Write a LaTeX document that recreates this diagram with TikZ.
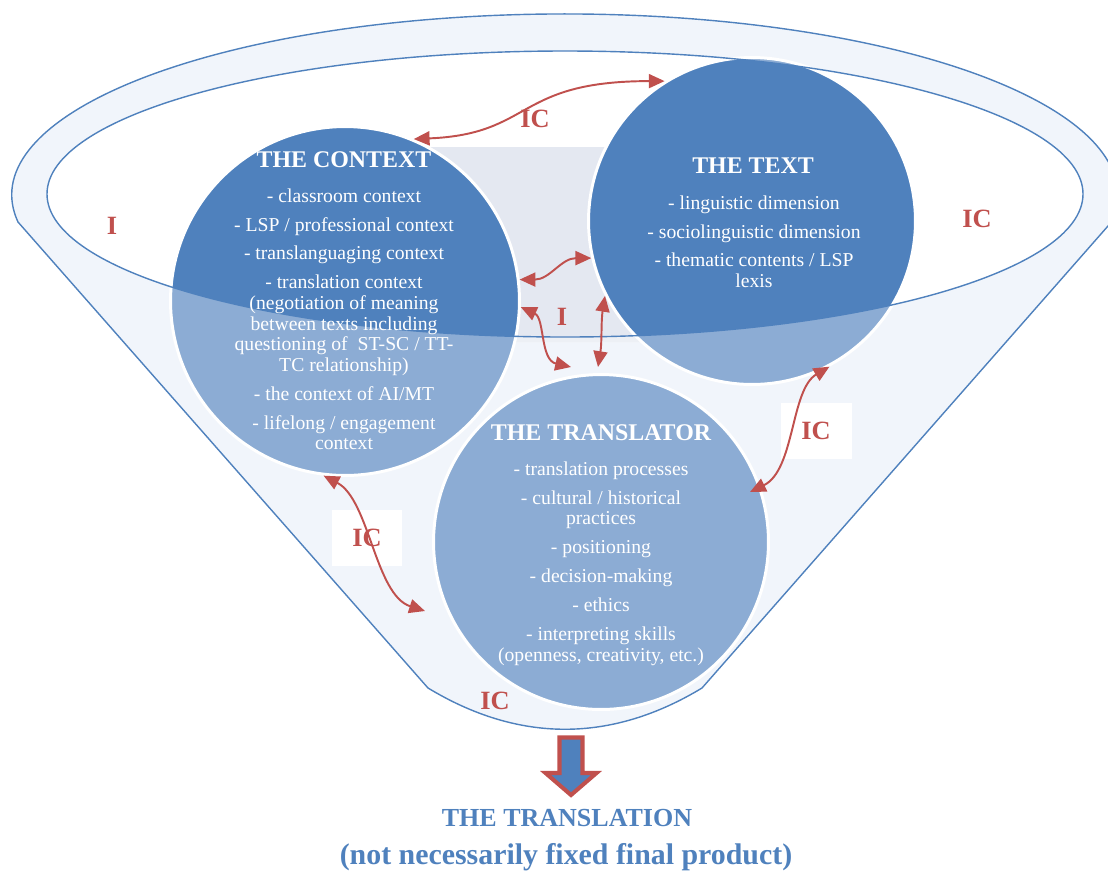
\documentclass[tikz,border=0pt]{standalone}
\usepackage{fontspec}
\setmainfont{Liberation Serif}
\usetikzlibrary{arrows.meta,positioning,calc}
\definecolor{funnelBlue}{HTML}{4F81BD}
\definecolor{linkRed}{HTML}{C0504D}
\definecolor{funnelFill}{HTML}{EBF1F9}
\definecolor{gapGray}{HTML}{E4E8F1}

\begin{document}
\begin{tikzpicture}[
  x=0.02cm, y=-0.02cm,
  >={Triangle[length=9pt,width=8pt]},
  hub/.style={circle, fill=funnelBlue, draw=white, line width=1.7pt, inner sep=0pt},
  hubhead/.style={text=white, font=\bfseries\fontsize{13.6}{16}\selectfont},
  hubbody/.style={text=white, align=center, inner sep=0pt, anchor=north, font=\fontsize{11.2}{11.7}\selectfont},
  relarrow/.style={<->, line width=1.1pt, linkRed},
  iclabel/.style={text=linkRed, font=\bfseries\fontsize{15}{15}\selectfont},
  icbox/.style={iclabel, fill=white, minimum width=1.42cm, minimum height=1.12cm}
]
  \useasboundingbox (0,0) rectangle (1108,873);

  % funnel body and its opening
  \fill[funnelFill] (18,222) arc[start angle=171.4, end angle=368.6, x radius=553, y radius=181]
    -- (702,688) .. controls (611,743) and (519,743) .. (428,688) -- cycle;
  \fill[white] (565,194) ellipse[x radius=518, y radius=143];
  \fill[gapGray] (420,147) -- (606,147) -- (660,342) -- (420,342) -- cycle;

  % the three circles
  \node[hub, minimum size=6.98cm] (ctx) at (345,301) {};
  \node[hub, minimum size=6.54cm] (txt) at (752,221) {};
  \node[hub, minimum size=6.70cm] (trl) at (601,542) {};

  % front of the funnel, lightens what lies behind it
  \fill[white, fill opacity=0.35, even odd rule] (18,222) arc[start angle=171.4, end angle=368.6, x radius=553, y radius=181]
    -- (702,688) .. controls (611,743) and (519,743) .. (428,688) -- cycle
    (565,194) ellipse[x radius=518, y radius=143];
  \draw[funnelBlue, line width=0.8pt] (18,222) arc[start angle=171.4, end angle=368.6, x radius=553, y radius=181]
    -- (702,688) .. controls (611,743) and (519,743) .. (428,688) -- cycle;
  \draw[funnelBlue, line width=0.8pt] (565,194) ellipse[x radius=518, y radius=143];

  % circle contents
  \node[hubhead] (ctxHead) at (344,160) {THE CONTEXT};
  \node[hubbody] (ctxBody) at (344,188) {- classroom context\\[4.8pt]
    - LSP / professional context\\[4.8pt]
    - translanguaging context\\[4.8pt]
    - translation context\\
    (negotiation of meaning\\
    between texts including\\
    questioning of \ ST-SC / TT-\\
    TC relationship)\\[4.8pt]
    - the context of AI/MT\\[4.8pt]
    - lifelong / engagement\\
    context};

  \node[hubhead] (txtHead) at (753,166) {THE TEXT};
  \node[hubbody] (txtBody) at (754,195) {- linguistic dimension\\[4.8pt]
    - sociolinguistic dimension\\[4.8pt]
    - thematic contents / LSP\\
    lexis};

  \node[hubhead] (trlHead) at (601,433) {THE TRANSLATOR};
  \node[hubbody] (trlBody) at (601,461) {- translation processes\\[4.8pt]
    - cultural / historical\\
    practices\\[4.8pt]
    - positioning\\[4.8pt]
    - decision-making\\[4.8pt]
    - ethics\\[4.8pt]
    - interpreting skills\\
    (openness, creativity, etc.)};

  % interaction labels
  \node[iclabel] (iLeft) at (112,226) {I};
  \node[iclabel] (icRight) at (977,219) {IC};
  \node[iclabel] (icTop) at (535,119) {IC};
  \node[iclabel] (iMid) at (562,317) {I};
  \node[iclabel] (icBottom) at (495,701) {IC};
  \node[icbox] (icLow) at (367,538) {IC};
  \node[icbox] (icSide) at (816,431) {IC};

  % interaction arrows
  \draw[relarrow] (ctx.67) .. controls +(120,-5) and +(-150,0) .. (txt.122);
  \draw[relarrow] (ctx.7) .. controls +(30,0) and +(-30,0) .. (txt.193);
  \draw[relarrow] (ctx.-2) .. controls +(24,11) and +(-31,-7) .. ($(trl.center)+(-30,-175)$);
  \draw[relarrow] (txt.207) .. controls +(-4,25) and +(4,-25) .. ($(trl.center)+(-3,-175)$);
  \draw[relarrow] (txt.-62) .. controls +(-39,23) and +(45,-22) .. ($(trl.center)+(149,-50)$);
  \draw[relarrow] (ctx.-97) .. controls +(46,24) and +(-50,-16) .. ($(trl.center)+(-176,69)$);

  % outcome
  \draw[linkRed, line width=2.3pt, fill=funnelBlue] (559.5,737.5) -- (582.5,737.5) -- (582.5,773)
    -- (596.5,773) -- (571,795) -- (545.5,773) -- (559.5,773) -- cycle;
  \node[text=funnelBlue, font=\bfseries\fontsize{14.8}{16}\selectfont] (result) at (567,818) {THE TRANSLATION};
  \node[text=funnelBlue, font=\bfseries\fontsize{17}{19}\selectfont] (resultNote) at (566,857) {(not necessarily fixed final product)};

\end{tikzpicture}
\end{document}
